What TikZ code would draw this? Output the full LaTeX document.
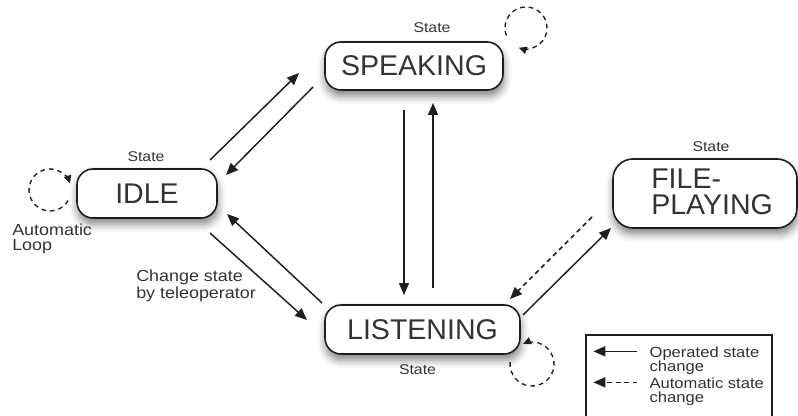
\documentclass[tikz,border=0pt]{standalone}
\usepackage{fontspec}
\setmainfont{Liberation Sans}
\newfontfamily\widefont[FakeStretch=1.12]{Liberation Sans}
\usetikzlibrary{arrows.meta,shadows.blur}
\definecolor{ink}{HTML}{1E1E1E}
\definecolor{txt}{HTML}{333333}
\begin{document}
\begin{tikzpicture}[x=0.75pt,y=-0.75pt,
  state/.style={draw=ink, line width=1.2pt, rounded corners=12pt, fill=white, inner sep=0pt,
    text=txt, font=\fontsize{21.4}{25}\selectfont,
    blur shadow={shadow xshift=0.5pt, shadow yshift=-4.5pt, shadow blur radius=6pt, shadow opacity=50}},
  lbl/.style={text=txt, inner sep=0pt, font=\widefont\fontsize{10.6}{10.5}\selectfont},
  note/.style={text=txt, inner sep=0pt, align=left, anchor=north west, font=\widefont\fontsize{12}{10.8}\selectfont},
  legtext/.style={text=txt, inner sep=0pt, align=left, anchor=north west, font=\widefont\fontsize{11.1}{10.5}\selectfont},
  op/.style={draw=ink, line width=1.1pt, -{Triangle[length=9pt,width=7.5pt]}},
  autoarr/.style={op, dash pattern=on 3.5pt off 2.8pt},
  loopy/.style={draw=ink, line width=1pt, dash pattern=on 3.5pt off 3pt, -{Triangle[length=6pt,width=5.5pt]}}
]
\useasboundingbox (0,0) rectangle (798,416);
\clip (0,0) rectangle (798,416);

% states
\node[state, minimum width=105pt, minimum height=36.75pt] (idle) at (147,193.5) {IDLE};
\node[state, minimum width=133.5pt, minimum height=36pt] (speak) at (414,66) {SPEAKING};
\node[state, minimum width=146.25pt, minimum height=36.75pt] (listen) at (422.5,329.5) {LISTENING};
\node[state, minimum width=138pt, minimum height=51.75pt, rounded corners=15pt] (file) at (705,193.5) {};
\node[text=txt, inner sep=0pt, align=left, anchor=north west, font=\fontsize{21.4}{19.5}\selectfont] (filetext) at (651,169) {FILE-\\PLAYING};

% state labels
\node[lbl] (sidle) at (146,156.5) {State};
\node[lbl] (sspeak) at (432,28) {State};
\node[lbl] (sfile) at (711,146.5) {State};
\node[lbl] (slisten) at (417.5,370) {State};

% notes
\node[note] (autoloop) at (12,224) {Automatic\\Loop};
\node[note] (changenote) at (136,270) {Change state\\by teleoperator};

% operated transitions
\draw[op] ([shift={(63,-33.5)}]idle.center) -- ([shift={(-115,7)}]speak.center);
\draw[op] ([shift={(-101,21)}]speak.center) -- ([shift={(79,-18.5)}]idle.center);
\draw[op] ([shift={(63,39.5)}]idle.center) -- ([shift={(-115.5,-9.5)}]listen.center);
\draw[op] ([shift={(-100.5,-26.5)}]listen.center) -- ([shift={(80,20.5)}]idle.center);
\draw[op] ([shift={(-10,44)}]speak.center) -- ([shift={(-18.5,-34.5)}]listen.center);
\draw[op] ([shift={(10.5,-41.5)}]listen.center) -- ([shift={(19,37)}]speak.center);
\draw[op] ([shift={(100.5,-14.5)}]listen.center) -- ([shift={(-94,34.5)}]file.center);
% automatic transitions
\draw[autoarr] ([shift={(-113,23.5)}]file.center) -- ([shift={(87.5,-30.5)}]listen.center);

% loops
\draw[loopy] ([shift={(-78.8,7)}]idle.center) arc[start angle=30, end angle=342, radius=21];
\draw[loopy] ([shift={(92.4,-30.5)}]speak.center) arc[start angle=-201, end angle=110, radius=21];
\draw[loopy] ([shift={(87.6,32.6)}]listen.center) arc[start angle=-175, end angle=-474, radius=22];

% legend
\node[draw=ink, line width=1pt, fill=white, minimum width=139.5pt, minimum height=63.75pt, inner sep=0pt] (legend) at (679,377.5) {};
\draw[op] ([shift={(52,17)}]legend.north west) -- ([shift={(8,17)}]legend.north west);
\draw[autoarr] ([shift={(52,48)}]legend.north west) -- ([shift={(8,48)}]legend.north west);
\node[legtext] (leg1) at ([shift={(64,12)}]legend.north west) {Operated state\\change};
\node[legtext] (leg2) at ([shift={(64,43)}]legend.north west) {Automatic state\\change};
\end{tikzpicture}
\end{document}
